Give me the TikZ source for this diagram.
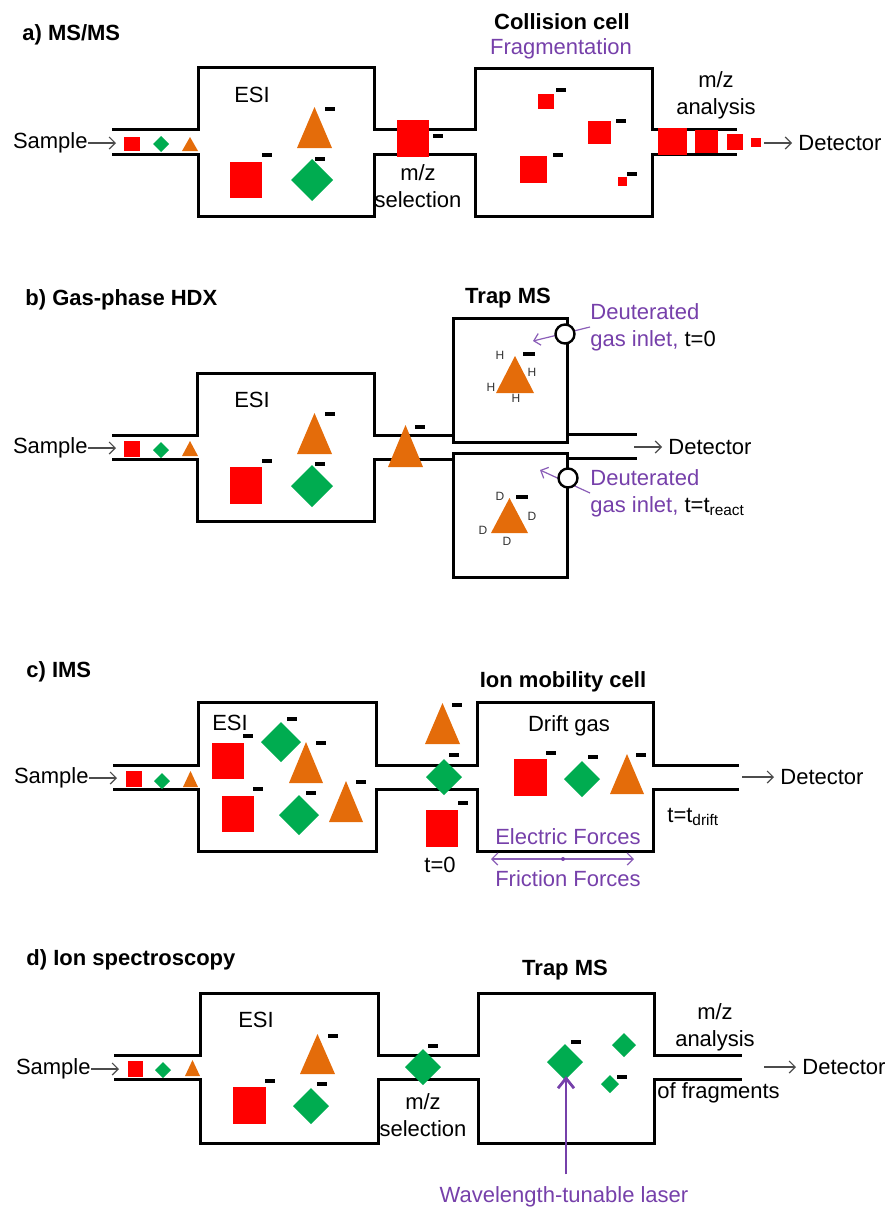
\documentclass[tikz,border=0pt]{standalone}
\usepackage{fontspec}
\setmainfont{Liberation Sans}
\usetikzlibrary{arrows.meta}
\definecolor{ionred}{RGB}{255,0,0}
\definecolor{iongreen}{RGB}{0,172,80}
\definecolor{ionorange}{RGB}{228,108,10}
\definecolor{purp}{RGB}{118,64,170}
\newcommand{\ionsq}[4]{\fill[ionred] (#1,#2) rectangle (#3,#4);}
\newcommand{\iondia}[3]{\fill[iongreen] (#1-#3,#2) -- (#1,#2-#3) -- (#1+#3,#2) -- (#1,#2+#3) -- cycle;}
\newcommand{\iontri}[4]{\fill[ionorange] (#1,#4) -- ({(#1+#2)/2},#3) -- (#2,#4) -- cycle;}
\newcommand{\ioncharge}[2]{\draw[charge] (#1,#2) -- ++(10,0);}

\begin{document}
\begin{tikzpicture}[
  x=0.5pt, y=-0.5pt,
  wall/.style={line width=1.5pt, line join=miter},
  charge/.style={line width=1.7pt},
  feed/.style={-{Straight Barb[length=3pt,width=6pt]}, line width=0.6pt, black!70},
  purparrow/.style={-{Straight Barb[length=3pt,width=6pt]}, line width=0.6pt, purp!85},
  laser/.style={-{Straight Barb[length=5pt,width=8pt]}, line width=1.4pt, purp},
  inlet/.style={circle, draw, line width=1.2pt, fill=white, minimum size=9.5pt, inner sep=0pt},
  txt/.style={font=\fontsize{11}{13.5}\selectfont, inner sep=0pt, align=center},
  title/.style={font=\fontsize{11}{13.5}\selectfont\bfseries, inner sep=0pt},
  purptxt/.style={txt, text=purp},
  atom/.style={font=\fontsize{6}{7}\selectfont, inner sep=0pt, text=black!80}
]
\useasboundingbox (0,0) rectangle (891,1210);

\node[title, anchor=west] (titA) at (22,35) {a) MS/MS};
\draw[wall] (112,129) -- (198,129) -- (198,67) -- (374,67) -- (374,129) -- (475,129) -- (475,68) -- (652,68) -- (652,129) -- (737,129);
\draw[wall] (112,154) -- (198,154) -- (198,216) -- (374,216) -- (374,154) -- (475,154) -- (475,216) -- (652,216) -- (652,154) -- (737,154);
\node[txt, anchor=east] (smpA) at (88,143) {Sample};
\coordinate (inA) at (116,143);
\draw[feed] (smpA) -- (inA);
\ionsq{124}{137}{140}{151} \iondia{161}{144}{8} \iontri{182}{198}{137}{151}
\node[txt] (esiA) at (252,95) {ESI};
\iontri{297}{332}{107}{148} \ioncharge{325}{109}
\ionsq{230}{162}{262}{198} \ioncharge{262}{155}
\iondia{312}{180}{21} \ioncharge{315}{159}
\ionsq{397}{120}{429}{157} \ioncharge{433}{136}
\node[txt] (selA) at (418,186) {m/z\\selection};
\node[title] (cellA) at (562,22) {Collision cell};
\node[purptxt] (fragA) at (561,49) {Fragmentation};
\ionsq{538}{94}{554}{109} \ioncharge{556}{90}
\ionsq{588}{121}{611}{144} \ioncharge{616}{121}
\ionsq{520}{156}{547}{183} \ioncharge{553}{155}
\ionsq{618}{177}{627}{186} \ioncharge{627}{174}
\ionsq{658}{128}{687}{155} \ionsq{695}{130}{718}{153} \ionsq{727}{134}{743}{150} \ionsq{751}{138}{761}{147}
\node[txt] (anaA) at (716,95) {m/z\\analysis};
\coordinate (outA) at (764,143);
\node[txt, anchor=west] (detA) at (798,143) {Detector};
\draw[feed, shorten >=3pt] (outA) -- (detA);

\node[title, anchor=west] (titB) at (25,300) {b) Gas-phase HDX};
\draw[wall] (112,435) -- (197,435) -- (197,373) -- (374,373) -- (374,435) -- (453,435);
\draw[wall] (112,459) -- (197,459) -- (197,521) -- (374,521) -- (374,459) -- (453,459);
\draw[wall] (453,318) rectangle (567,442);
\draw[wall] (453,453) rectangle (567,577);
\draw[wall] (567,434) -- (637,434);
\draw[wall] (567,458) -- (637,458);
\node[txt, anchor=east] (smpB) at (88,448) {Sample};
\coordinate (inB) at (116,448);
\draw[feed] (smpB) -- (inB);
\ionsq{124}{441}{140}{457} \iondia{161}{450}{8} \iontri{182}{198}{441}{456}
\node[txt] (esiB) at (252,400) {ESI};
\iontri{297}{332}{413}{454} \ioncharge{325}{414}
\ionsq{230}{467}{262}{504} \ioncharge{262}{461}
\iondia{312}{486}{21} \ioncharge{315}{464}
\iontri{388}{423}{425}{467} \ioncharge{415}{427}
\node[title] (trapB) at (508,298) {Trap MS};
\iontri{496}{534}{356}{393} \draw[charge] (523,354) -- ++(12,0);
\node[atom] (h1) at (500,355) {H};
\node[atom] (h2) at (532,372) {H};
\node[atom] (h3) at (491,387) {H};
\node[atom] (h4) at (516,398) {H};
\iontri{491}{528}{498}{533} \draw[charge] (516,497) -- ++(12,0);
\node[atom] (d1) at (500,496) {D};
\node[atom] (d2) at (532,516) {D};
\node[atom] (d3) at (483,530) {D};
\node[atom] (d4) at (507,541) {D};
\node[txt, anchor=west, align=left] (gasB1) at (590,327) {\textcolor{purp}{Deuterated}\\\textcolor{purp}{gas inlet,} t=0};
\node[txt, anchor=west, align=left] (gasB2) at (590,493) {\textcolor{purp}{Deuterated}\\\textcolor{purp}{gas inlet,} t=t\textsubscript{react}};
\coordinate (tipB1) at (533,341);
\coordinate (tipB2) at (540,470);
\draw[purparrow] (gasB1.west) -- (tipB1);
\draw[purparrow] (gasB2.west) -- (tipB2);
\node[inlet] (valveB1) at (565,334) {};
\node[inlet] (valveB2) at (568,478) {};
\coordinate (outB) at (634,447);
\node[txt, anchor=west] (detB) at (668,447) {Detector};
\draw[feed, shorten >=3pt] (outB) -- (detB);

\node[title, anchor=west] (titC) at (26,672) {c) IMS};
\draw[wall] (113,765) -- (198,765) -- (198,702) -- (376,702) -- (376,765) -- (477,765) -- (477,702) -- (653,702) -- (653,765) -- (739,765);
\draw[wall] (113,789) -- (198,789) -- (198,851) -- (376,851) -- (376,789) -- (477,789) -- (477,851) -- (653,851) -- (653,789) -- (739,789);
\node[txt, anchor=east] (smpC) at (89,778) {Sample};
\coordinate (inC) at (117,778);
\draw[feed] (smpC) -- (inC);
\ionsq{126}{771}{142}{787} \iondia{162}{781}{8} \iontri{183}{198}{771}{787}
\node[txt] (esiC) at (230,723) {ESI};
\ionsq{212}{743}{244}{779} \ioncharge{243}{736}
\iondia{281}{742}{20} \ioncharge{287}{719}
\iontri{289}{323}{742}{783} \ioncharge{316}{743}
\ionsq{222}{796}{254}{832} \ioncharge{253}{789}
\iondia{299}{815}{20} \ioncharge{306}{793}
\iontri{329}{363}{781}{822} \ioncharge{356}{782}
\iontri{425}{460}{703}{744} \ioncharge{452}{705}
\iondia{444}{777}{18} \ioncharge{449}{755}
\ionsq{426}{810}{458}{847} \ioncharge{458}{803}
\node[txt] (t0C) at (440,865) {t=0};
\node[title] (cellC) at (563,682) {Ion mobility cell};
\node[txt] (gasC) at (569,726) {Drift gas};
\ionsq{514}{759}{547}{796} \ioncharge{546}{753}
\iondia{582}{779}{18} \ioncharge{588}{757}
\iontri{610}{644}{754}{794} \ioncharge{636}{755}
\node[txt, anchor=west] (tdC) at (667,817) {t=t\textsubscript{drift}};
\node[purptxt] (elecC) at (568,837) {Electric Forces};
\coordinate (fL) at (491,859);
\coordinate (fR) at (634,859);
\draw[purparrow, {Straight Barb[length=3pt,width=6pt]}-{Straight Barb[length=3pt,width=6pt]}] (fL) -- (fR);
\fill[purp] (563,859) circle (1pt);
\node[purptxt] (fricC) at (568,879) {Friction Forces};
\coordinate (outC) at (742,777);
\node[txt, anchor=west] (detC) at (780,777) {Detector};
\draw[feed, shorten >=3pt] (outC) -- (detC);

\node[title, anchor=west] (titD) at (26,960) {d) Ion spectroscopy};
\draw[wall] (114,1055) -- (200,1055) -- (200,993) -- (378,993) -- (378,1055) -- (478,1055) -- (478,993) -- (654,993) -- (654,1055) -- (742,1055);
\draw[wall] (114,1079) -- (200,1079) -- (200,1143) -- (378,1143) -- (378,1079) -- (478,1079) -- (478,1143) -- (654,1143) -- (654,1079) -- (742,1079);
\node[txt, anchor=east] (smpD) at (91,1069) {Sample};
\coordinate (inD) at (119,1069);
\draw[feed] (smpD) -- (inD);
\ionsq{128}{1061}{143}{1077} \iondia{163}{1070}{8} \iontri{185}{200}{1060}{1076}
\node[txt] (esiD) at (256,1020) {ESI};
\iontri{300}{335}{1034}{1074} \ioncharge{328}{1036}
\ionsq{233}{1087}{266}{1124} \ioncharge{265}{1081}
\iondia{311}{1106}{18} \ioncharge{317}{1084}
\iondia{423}{1067}{18} \ioncharge{428}{1046}
\node[txt] (selD) at (423,1115) {m/z\\selection};
\node[title] (trapD) at (565,970) {Trap MS};
\iondia{565}{1062}{18} \ioncharge{571}{1042}
\iondia{624}{1045}{12}
\iondia{610}{1084}{9} \ioncharge{617}{1077}
\node[purptxt] (laserD) at (564,1197) {Wavelength-tunable laser};
\coordinate (hitD) at (566,1076);
\draw[laser, shorten <=6pt] (laserD.north -| hitD) -- (hitD);
\node[txt] (anaD) at (715,1027) {m/z\\analysis};
\node[txt, anchor=west] (fragD) at (657,1093) {of fragments};
\coordinate (outD) at (764,1067);
\node[txt, anchor=west] (detD) at (802,1067) {Detector};
\draw[feed, shorten >=3pt] (outD) -- (detD);
\end{tikzpicture}
\end{document}
